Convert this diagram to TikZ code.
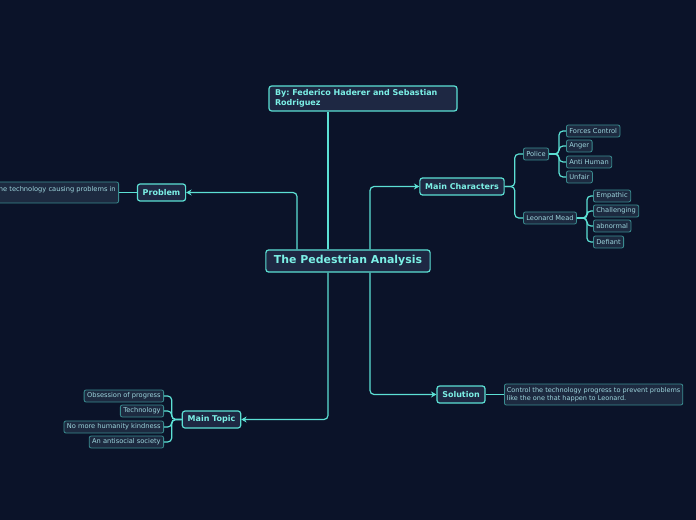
\documentclass[tikz,border=0pt]{standalone}
\usepackage{fontspec}
\setmainfont{DejaVu Sans}
\usetikzlibrary{arrows.meta,calc}
\frenchspacing

\definecolor{bgcol}{HTML}{0B1329}
\definecolor{boxfill}{HTML}{1E2843}
\definecolor{leaffill}{HTML}{1D2A40}
\definecolor{linkcol}{HTML}{5CE0D4}
\definecolor{leafline}{HTML}{3A8C90}
\definecolor{maintext}{HTML}{7CF0E6}
\definecolor{leaftext}{HTML}{9ED6DE}

\begin{document}
\begin{tikzpicture}[x=0.75pt, y=-0.75pt, >={Stealth[length=4pt,width=4.5pt]},
	topic/.style={draw=linkcol, line width=0.9pt, fill=boxfill, rounded corners=2pt, text=maintext, font=\bfseries\fontsize{6}{7.5}\selectfont, inner xsep=4pt, inner ysep=1pt, minimum height=12.75pt},
	leaf/.style={draw=leafline, line width=0.6pt, fill=leaffill, rounded corners=1.5pt, text=leaftext, font=\fontsize{5}{6}\selectfont, inner xsep=2.2pt, inner ysep=1pt, minimum height=9pt},
	link/.style={draw=linkcol, line width=0.9pt, rounded corners=3pt}]
	\useasboundingbox (0,0) rectangle (696,520);
	\fill[bgcol] (0,0) rectangle (696,520);
	\clip (0,0) rectangle (696,520);

	% central topic and main branches
	\node[topic, font=\bfseries\fontsize{8.2}{10}\selectfont, minimum height=16.5pt, inner xsep=6pt] (pa) at (348,261) {The Pedestrian Analysis};
	\node[topic, align=flush left, text width=132pt, inner xsep=4.5pt, minimum height=18.75pt] (author) at (363,98.5) {By: Federico Haderer and Sebastian\\Rodriguez};
	\node[topic] (prob) at (161.5,192.5) {Problem};
	\node[topic] (mc) at (462,186.5) {Main Characters};
	\node[topic] (sol) at (461,394.5) {Solution};
	\node[topic] (mt) at (211.5,419.5) {Main Topic};

	% notes
	\node[leaf, anchor=east, minimum height=15.75pt, text depth=5pt] (probnote) at (119,192.5) {The technology causing problems in};
	\node[leaf, align=flush left, anchor=west, minimum height=15.75pt, inner xsep=1.8pt, font=\fontsize{4.9}{6}\selectfont] (solnote) at (504,394.5) {Control the technology progress to prevent problems\\like the one that happen to Leonard.};

	% characters
	\node[leaf, anchor=west] (police) at (523,154) {Police};
	\node[leaf, anchor=west] (leonard) at (523,218) {Leonard Mead};
	\node[leaf, anchor=west] (fc) at (566,131) {Forces Control};
	\node[leaf, anchor=west] (anger) at (566,146) {Anger};
	\node[leaf, anchor=west] (anti) at (566,162) {Anti Human};
	\node[leaf, anchor=west] (unfair) at (566,177) {Unfair};
	\node[leaf, anchor=west] (emp) at (593,196) {Empathic};
	\node[leaf, anchor=west] (chal) at (593,211) {Challenging};
	\node[leaf, anchor=west] (abn) at (593,226) {abnormal};
	\node[leaf, anchor=west] (def) at (593,242) {Defiant};

	% main topic items
	\node[leaf, anchor=east] (obs) at (164,396) {Obsession of progress};
	\node[leaf, anchor=east] (tech) at (164,411) {Technology};
	\node[leaf, anchor=east] (kind) at (164,427) {No more humanity kindness};
	\node[leaf, anchor=east] (anti-soc) at (164,442) {An antisocial society};

	% connectors from the central topic
	\coordinate (pa-a) at ($(pa.north)+(-51,0)$);
	\coordinate (pa-b) at ($(pa.north)+(-20,0)$);
	\coordinate (pa-c) at ($(pa.north)+(22,0)$);
	\coordinate (pa-d) at ($(pa.south)+(22,0)$);
	\coordinate (pa-e) at ($(pa.south)+(-20,0)$);
	\draw[link, ->] (pa-a) |- (prob.east);
	\draw[link] (pa-b) -- (pa-b |- author.south);
	\draw[link, ->] (pa-c) |- (mc.west);
	\draw[link, ->] (pa-d) |- (sol.west);
	\draw[link, ->] (pa-e) |- (mt.east);

	\draw[link] (prob.west) -- (probnote.east);
	\draw[link] (sol.east) -- (solnote.west);

	\foreach \n in {police,leonard}
		\draw[link] (mc.east) -- ++(10,0) |- (\n.west);
	\foreach \n in {fc,anger,anti,unfair}
		\draw[link] (police.east) -- ++(10,0) |- (\n.west);
	\foreach \n in {emp,chal,abn,def}
		\draw[link] (leonard.east) -- ++(10,0) |- (\n.west);
	\foreach \n in {obs,tech,kind,anti-soc}
		\draw[link] (mt.west) -- ++(-10,0) |- (\n.east);
\end{tikzpicture}
\end{document}
